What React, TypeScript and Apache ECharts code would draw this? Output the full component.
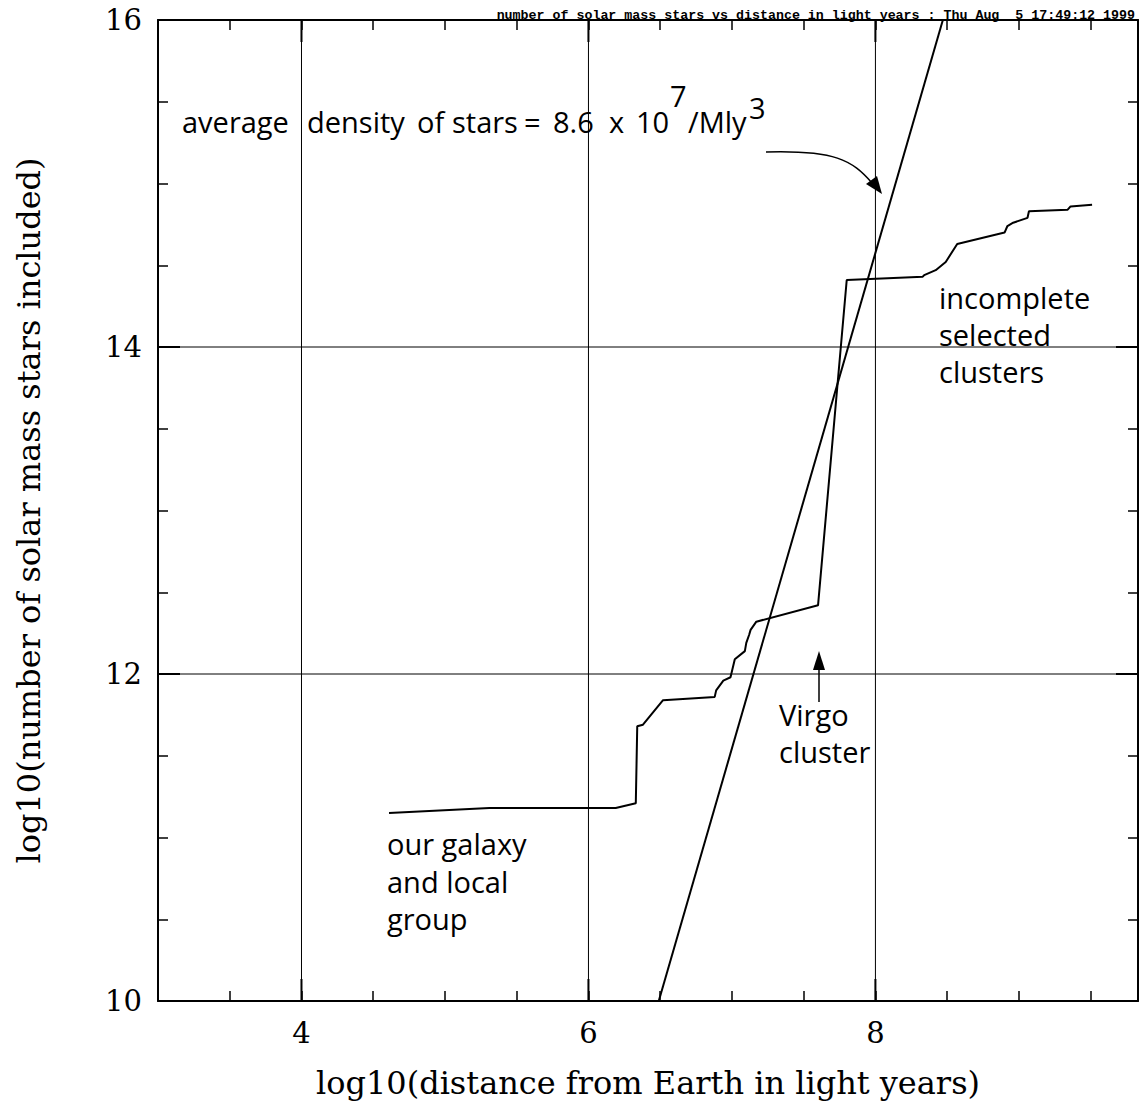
import React, { useEffect, useRef } from "react";
import * as echarts from "echarts";

// log10(distance in light years) along the cumulative curve
const distance = [4.61, 5.31, 6.19, 6.33, 6.34, 6.38, 6.52, 6.88, 6.89, 6.94, 6.99, 7.02, 7.09, 7.10, 7.12, 7.13, 7.17, 7.60, 7.80, 8.33, 8.34, 8.42, 8.49, 8.57, 8.90, 8.92, 8.96, 9.06, 9.07, 9.34, 9.36, 9.51];
// log10(number of solar mass stars included)
const stars = [11.15, 11.18, 11.18, 11.21, 11.68, 11.69, 11.84, 11.86, 11.90, 11.96, 11.98, 12.09, 12.14, 12.19, 12.24, 12.27, 12.32, 12.42, 14.41, 14.43, 14.44, 14.47, 14.52, 14.63, 14.70, 14.74, 14.76, 14.79, 14.83, 14.84, 14.86, 14.87];
// average density line (8.6e7 / Mly^3)
const densityX = [6.49, 8.47];
const densityY = [10, 16];

const xTickLabels = [4, 6, 8];
const yTickLabels = [10, 12, 14, 16];

const X_MIN = 3, X_MAX = 9.83, Y_MIN = 10, Y_MAX = 16;

const titleText = "number of solar mass stars vs distance in light years : Thu Aug  5 17:49:12 1999";

export default function App() {
  const ref = useRef<HTMLDivElement>(null);
  useEffect(() => {
    if (!ref.current) return;
    const chart = echarts.init(ref.current, null, { renderer: "svg" });
    const serif = "DejaVu Serif";
    const sans = "Open Sans";
    const FS = 29;
    const BL = 26; // baseline offset from top for top-aligned text
    const annot = { fontFamily: sans, fontSize: FS, fill: "#000" };
    const txt = (text: string, x: number, baseline: number) => ({
      type: "text", x, y: baseline - BL, style: { ...annot, text },
    });

    const axisCommon = {
      type: "value",
      splitLine: { show: false },
      axisLine: { show: true, onZero: false, lineStyle: { color: "#000", width: 2 } },
      axisTick: { show: true, inside: true, length: 10, lineStyle: { color: "#000", width: 1.5 } },
      interval: 0.5,
    };

    const option: any = {
      animation: false,
      backgroundColor: "#fff",
      grid: { left: 158, top: 20, right: 1, bottom: 100, containLabel: false, outerBoundsMode: "none" },
      xAxis: [
        {
          ...axisCommon,
          min: X_MIN, max: X_MAX, position: "bottom",
          name: "log10(distance from Earth in light years)",
          nameLocation: "middle", nameGap: 66,
          nameTextStyle: { fontFamily: serif, fontSize: 32, color: "#000" },
          axisLabel: {
            fontFamily: serif, fontSize: 29, color: "#000", margin: 17,
            showMinLabel: false, showMaxLabel: false,
            formatter: (v: number) => (xTickLabels.includes(v) ? String(v) : ""),
          },
        },
        {
          ...axisCommon,
          min: X_MIN, max: X_MAX, position: "top",
          axisLabel: { show: false },
        },
      ],
      yAxis: [
        {
          ...axisCommon,
          min: Y_MIN, max: Y_MAX, position: "left",
          name: "log10(number of solar mass stars included)",
          nameLocation: "middle", nameGap: 113, nameRotate: 90,
          nameTextStyle: { fontFamily: serif, fontSize: 32, color: "#000" },
          axisLabel: {
            fontFamily: serif, fontSize: 29, color: "#000", margin: 16,
            formatter: (v: number) => (yTickLabels.includes(v) ? String(v) : ""),
          },
        },
        {
          ...axisCommon,
          min: Y_MIN, max: Y_MAX, position: "right",
          axisLabel: { show: false },
        },
      ],
      series: [
        {
          type: "custom",
          name: "xgrid",
          coordinateSystem: "cartesian2d",
          data: xTickLabels.map((v) => [v, Y_MIN]),
          silent: true,
          renderItem: (params: any, api: any) => {
            const cs = params.coordSys;
            const px = api.coord([api.value(0), Y_MIN])[0];
            return {
              type: "group",
              children: [
                { type: "line", shape: { x1: px, y1: cs.y, x2: px, y2: cs.y + cs.height }, style: { stroke: "#000", lineWidth: 1 } },
                { type: "line", shape: { x1: px, y1: cs.y + cs.height, x2: px, y2: cs.y + cs.height - 22 }, style: { stroke: "#000", lineWidth: 2 } },
                { type: "line", shape: { x1: px, y1: cs.y, x2: px, y2: cs.y + 22 }, style: { stroke: "#000", lineWidth: 2 } },
              ],
            };
          },
        },
        {
          type: "custom",
          name: "ygrid",
          coordinateSystem: "cartesian2d",
          data: yTickLabels.map((v) => [X_MIN, v]),
          silent: true,
          renderItem: (params: any, api: any) => {
            const cs = params.coordSys;
            const py = api.coord([X_MIN, api.value(1)])[1];
            return {
              type: "group",
              children: [
                { type: "line", shape: { x1: cs.x, y1: py, x2: cs.x + cs.width, y2: py }, style: { stroke: "#000", lineWidth: 1 } },
                { type: "line", shape: { x1: cs.x, y1: py, x2: cs.x + 22, y2: py }, style: { stroke: "#000", lineWidth: 2 } },
                { type: "line", shape: { x1: cs.x + cs.width, y1: py, x2: cs.x + cs.width - 22, y2: py }, style: { stroke: "#000", lineWidth: 2 } },
              ],
            };
          },
        },
        {
          type: "line",
          name: "stars",
          data: distance.map((d, i) => [d, stars[i]]),
          showSymbol: false,
          symbol: "none",
          lineStyle: { color: "#000", width: 2 },
          z: 5,
        },
        {
          type: "line",
          name: "density",
          data: densityX.map((d, i) => [d, densityY[i]]),
          showSymbol: false,
          symbol: "none",
          lineStyle: { color: "#000", width: 2 },
          z: 5,
        },
      ],
      graphic: [
        {
          type: "text", right: 4, top: 9,
          style: { text: titleText, fontFamily: "Liberation Mono", fontWeight: "bold", fontSize: 13.3, fill: "#000" },
        },
        txt("average", 182, 133),
        txt("density", 307, 133),
        txt("of", 417, 133),
        txt("stars", 452, 133),
        txt("=", 524, 133),
        txt("8.6", 553, 133),
        txt("x", 609, 133),
        txt("10", 636, 133),
        txt("7", 670, 107),
        txt("/Mly", 688, 133),
        txt("3", 749, 119),
        {
          type: "bezierCurve",
          shape: { x1: 766, y1: 152, cpx1: 835, cpy1: 150, cpx2: 852, cpy2: 160, x2: 872, y2: 183 },
          style: { stroke: "#000", lineWidth: 1.5, fill: null },
        },
        { type: "polygon", shape: { points: [[882, 194], [866, 184], [877, 176]] }, style: { fill: "#000" } },
        { type: "line", shape: { x1: 819, y1: 668, x2: 819, y2: 702 }, style: { stroke: "#000", lineWidth: 1.5 } },
        { type: "polygon", shape: { points: [[819, 651], [813, 670], [825, 670]] }, style: { fill: "#000" } },
        txt("Virgo", 779, 726),
        txt("cluster", 779, 763),
        txt("our galaxy", 387, 855),
        txt("and local", 387, 893),
        txt("group", 387, 930),
        txt("incomplete", 939, 309),
        txt("selected", 939, 346),
        txt("clusters", 939, 383),
      ],
    };
    chart.setOption(option);
    return () => chart.dispose();
  }, []);
  return <div ref={ref} style={{ width: 1139, height: 1101, position: "absolute", left: 0, top: 0 }} />;
}
